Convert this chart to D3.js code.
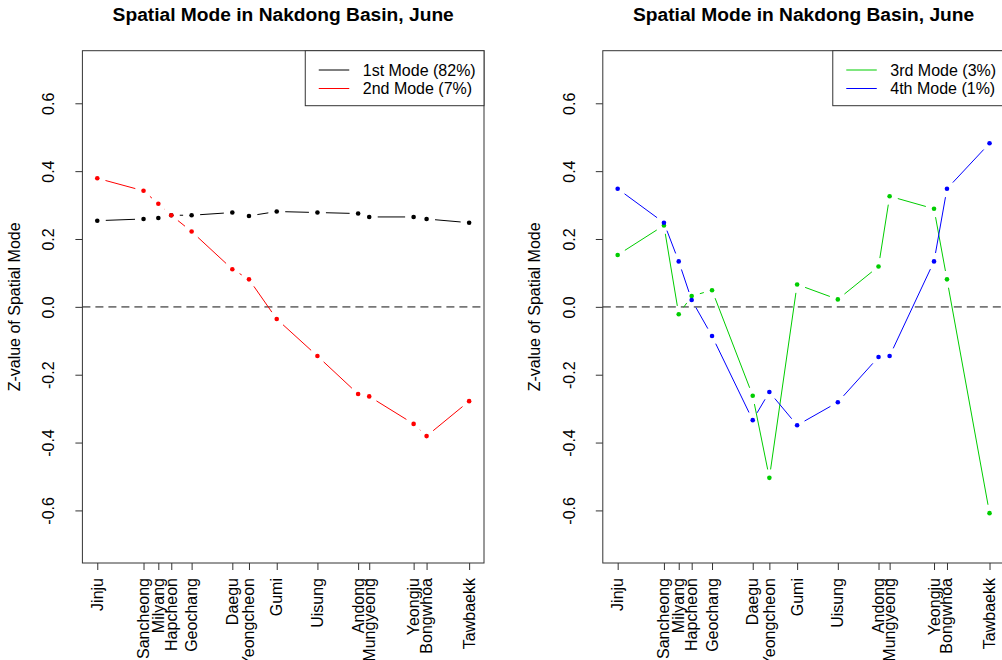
<!DOCTYPE html>
<html>
<head>
<meta charset="utf-8">
<script src="https://cdn.jsdelivr.net/npm/d3@7"></script>
<style>
  body { margin: 0; background: #fff; }
  svg { display: block; font-family: "Liberation Sans", Arial, sans-serif; }
</style>
</head>
<body>
<script>
// stations along the basin, placed by latitude
const stations = ["Jinju", "Sancheong", "Milyang", "Hapcheon", "Geochang", "Daegu", "Yeongcheon",
    "Gumi", "Uisung", "Andong", "Mungyeong", "Yeongju", "Bongwhoa", "Tawbaekk"];
const latitude = [35.16, 35.41, 35.49, 35.56, 35.67, 35.89, 35.98, 36.13, 36.35, 36.57, 36.63, 36.87, 36.94, 37.17];

// z-values of the spatial modes
const mode1 = [0.254, 0.259, 0.262, 0.270, 0.270, 0.278, 0.268, 0.281, 0.278, 0.275, 0.265, 0.265, 0.259, 0.248];
const mode2 = [0.379, 0.342, 0.304, 0.270, 0.222, 0.111, 0.081, -0.036, -0.145, -0.257, -0.264, -0.345, -0.381, -0.278];
const mode3 = [0.153, 0.240, -0.022, 0.032, 0.049, -0.262, -0.504, 0.066, 0.022, 0.119, 0.326, 0.289, 0.081, -0.608];
const mode4 = [0.348, 0.248, 0.134, 0.020, -0.086, -0.334, -0.251, -0.349, -0.281, -0.148, -0.145, 0.134, 0.348, 0.482];

const yTicks = [-0.6, -0.4, -0.2, 0.0, 0.2, 0.4, 0.6];
const title = "Spatial Mode in Nakdong Basin, June";
const yLabel = "Z-value of Spatial Mode";

const panels = [
    { series: [{ name: "1st Mode (82%)", values: mode1, color: "#000000" },
               { name: "2nd Mode (7%)", values: mode2, color: "#ff0000" }] },
    { series: [{ name: "3rd Mode (3%)", values: mode3, color: "#00cd00" },
               { name: "4th Mode (1%)", values: mode4, color: "#0000ff" }] }
];

const W = 1002, H = 660;
const panelW = 520.4;
const box = { left: 82.4, right: 484, top: 50.7, bottom: 563 };
const gap = 8.5; // type="b" gap around points
const fontSize = 16;

const svg = d3.select("body").append("svg")
    .attr("width", W)
    .attr("height", H);

const latExt = d3.extent(latitude);
const pad = (latExt[1] - latExt[0]) * 0.04;
const x = d3.scaleLinear()
    .domain([latExt[0] - pad, latExt[1] + pad])
    .range([box.left, box.right]);
const y = d3.scaleLinear()
    .domain([-0.755, 0.755])
    .range([box.bottom, box.top]);

panels.forEach((panel, p) => {
    const g = svg.append("g").attr("transform", `translate(${p * panelW},0)`);

    // title
    g.append("text")
        .attr("x", (box.left + box.right) / 2)
        .attr("y", 21)
        .attr("text-anchor", "middle")
        .attr("font-weight", "bold")
        .attr("font-size", 19.2)
        .text(title);

    // y label
    g.append("text")
        .attr("transform", `translate(20,${(box.top + box.bottom) / 2}) rotate(-90)`)
        .attr("text-anchor", "middle")
        .attr("font-size", fontSize)
        .text(yLabel);

    // zero line
    g.append("line")
        .attr("x1", box.left).attr("x2", box.right)
        .attr("y1", y(0)).attr("y2", y(0))
        .attr("stroke", "#777")
        .attr("stroke-width", 1.6)
        .attr("stroke-dasharray", "8,5");

    // axes
    const yAxis = g.append("g")
        .attr("transform", `translate(${box.left},0)`)
        .call(d3.axisLeft(y).tickValues(yTicks).tickSize(7).tickFormat(d => d.toFixed(1)));
    yAxis.select(".domain").remove();
    yAxis.selectAll(".tick line").attr("stroke", "#333");
    yAxis.selectAll(".tick text")
        .attr("x", 0).attr("y", 0).attr("dy", null)
        .attr("transform", "translate(-28,0) rotate(-90)")
        .attr("text-anchor", "middle")
        .attr("font-size", fontSize)
        .attr("font-family", null)
        .attr("fill", "#000");

    const xAxis = g.append("g")
        .attr("transform", `translate(0,${box.bottom})`)
        .call(d3.axisBottom(x).tickValues(latitude).tickSize(7).tickFormat((d, i) => stations[i]));
    xAxis.select(".domain").remove();
    xAxis.selectAll(".tick line").attr("stroke", "#333");
    xAxis.selectAll(".tick text")
        .attr("x", 0).attr("y", 0).attr("dy", null)
        .attr("transform", "translate(5,15) rotate(-90)")
        .attr("text-anchor", "end")
        .attr("font-size", fontSize)
        .attr("font-family", null)
        .attr("fill", "#000");

    // plot box
    g.append("rect")
        .attr("x", box.left).attr("y", box.top)
        .attr("width", box.right - box.left)
        .attr("height", box.bottom - box.top)
        .attr("fill", "none")
        .attr("stroke", "#333");

    // series: broken segments between points, then dots
    panel.series.forEach(s => {
        const pts = s.values.map((v, i) => [x(latitude[i]), y(v)]);
        const segs = d3.pairs(pts).filter(([a, b]) => Math.hypot(b[0] - a[0], b[1] - a[1]) > 2 * gap);
        g.append("g").selectAll("line")
            .data(segs)
            .join("line")
            .attr("x1", ([a, b]) => a[0] + gap * (b[0] - a[0]) / Math.hypot(b[0] - a[0], b[1] - a[1]))
            .attr("y1", ([a, b]) => a[1] + gap * (b[1] - a[1]) / Math.hypot(b[0] - a[0], b[1] - a[1]))
            .attr("x2", ([a, b]) => b[0] - gap * (b[0] - a[0]) / Math.hypot(b[0] - a[0], b[1] - a[1]))
            .attr("y2", ([a, b]) => b[1] - gap * (b[1] - a[1]) / Math.hypot(b[0] - a[0], b[1] - a[1]))
            .attr("stroke", s.color)
            .attr("stroke-width", 1);
        g.append("g").selectAll("circle")
            .data(s.values)
            .join("circle")
            .attr("cx", (d, i) => x(latitude[i]))
            .attr("cy", d => y(d))
            .attr("r", 2.3)
            .attr("fill", s.color);
    });

    // legend, top right inside the box
    const leg = g.append("g");
    const texts = leg.selectAll("text")
        .data(panel.series)
        .join("text")
        .attr("y", (d, i) => 70 + i * 18.5 + 5.6)
        .attr("font-size", fontSize)
        .text(d => d.name);
    const tw = d3.max(texts.nodes(), n => n.getComputedTextLength());
    const legW = 57.5 + tw + 8.3;
    const legX = box.right - legW;
    texts.attr("x", legX + 57.5);
    leg.selectAll("line")
        .data(panel.series)
        .join("line")
        .attr("x1", legX + 13.5).attr("x2", legX + 44)
        .attr("y1", (d, i) => 70 + i * 18.5)
        .attr("y2", (d, i) => 70 + i * 18.5)
        .attr("stroke", d => d.color)
        .attr("stroke-width", 1);
    leg.insert("rect", ":first-child")
        .attr("x", legX).attr("y", box.top)
        .attr("width", legW).attr("height", 55)
        .attr("fill", "#fff")
        .attr("stroke", "#333");
});
</script>
</body>
</html>
